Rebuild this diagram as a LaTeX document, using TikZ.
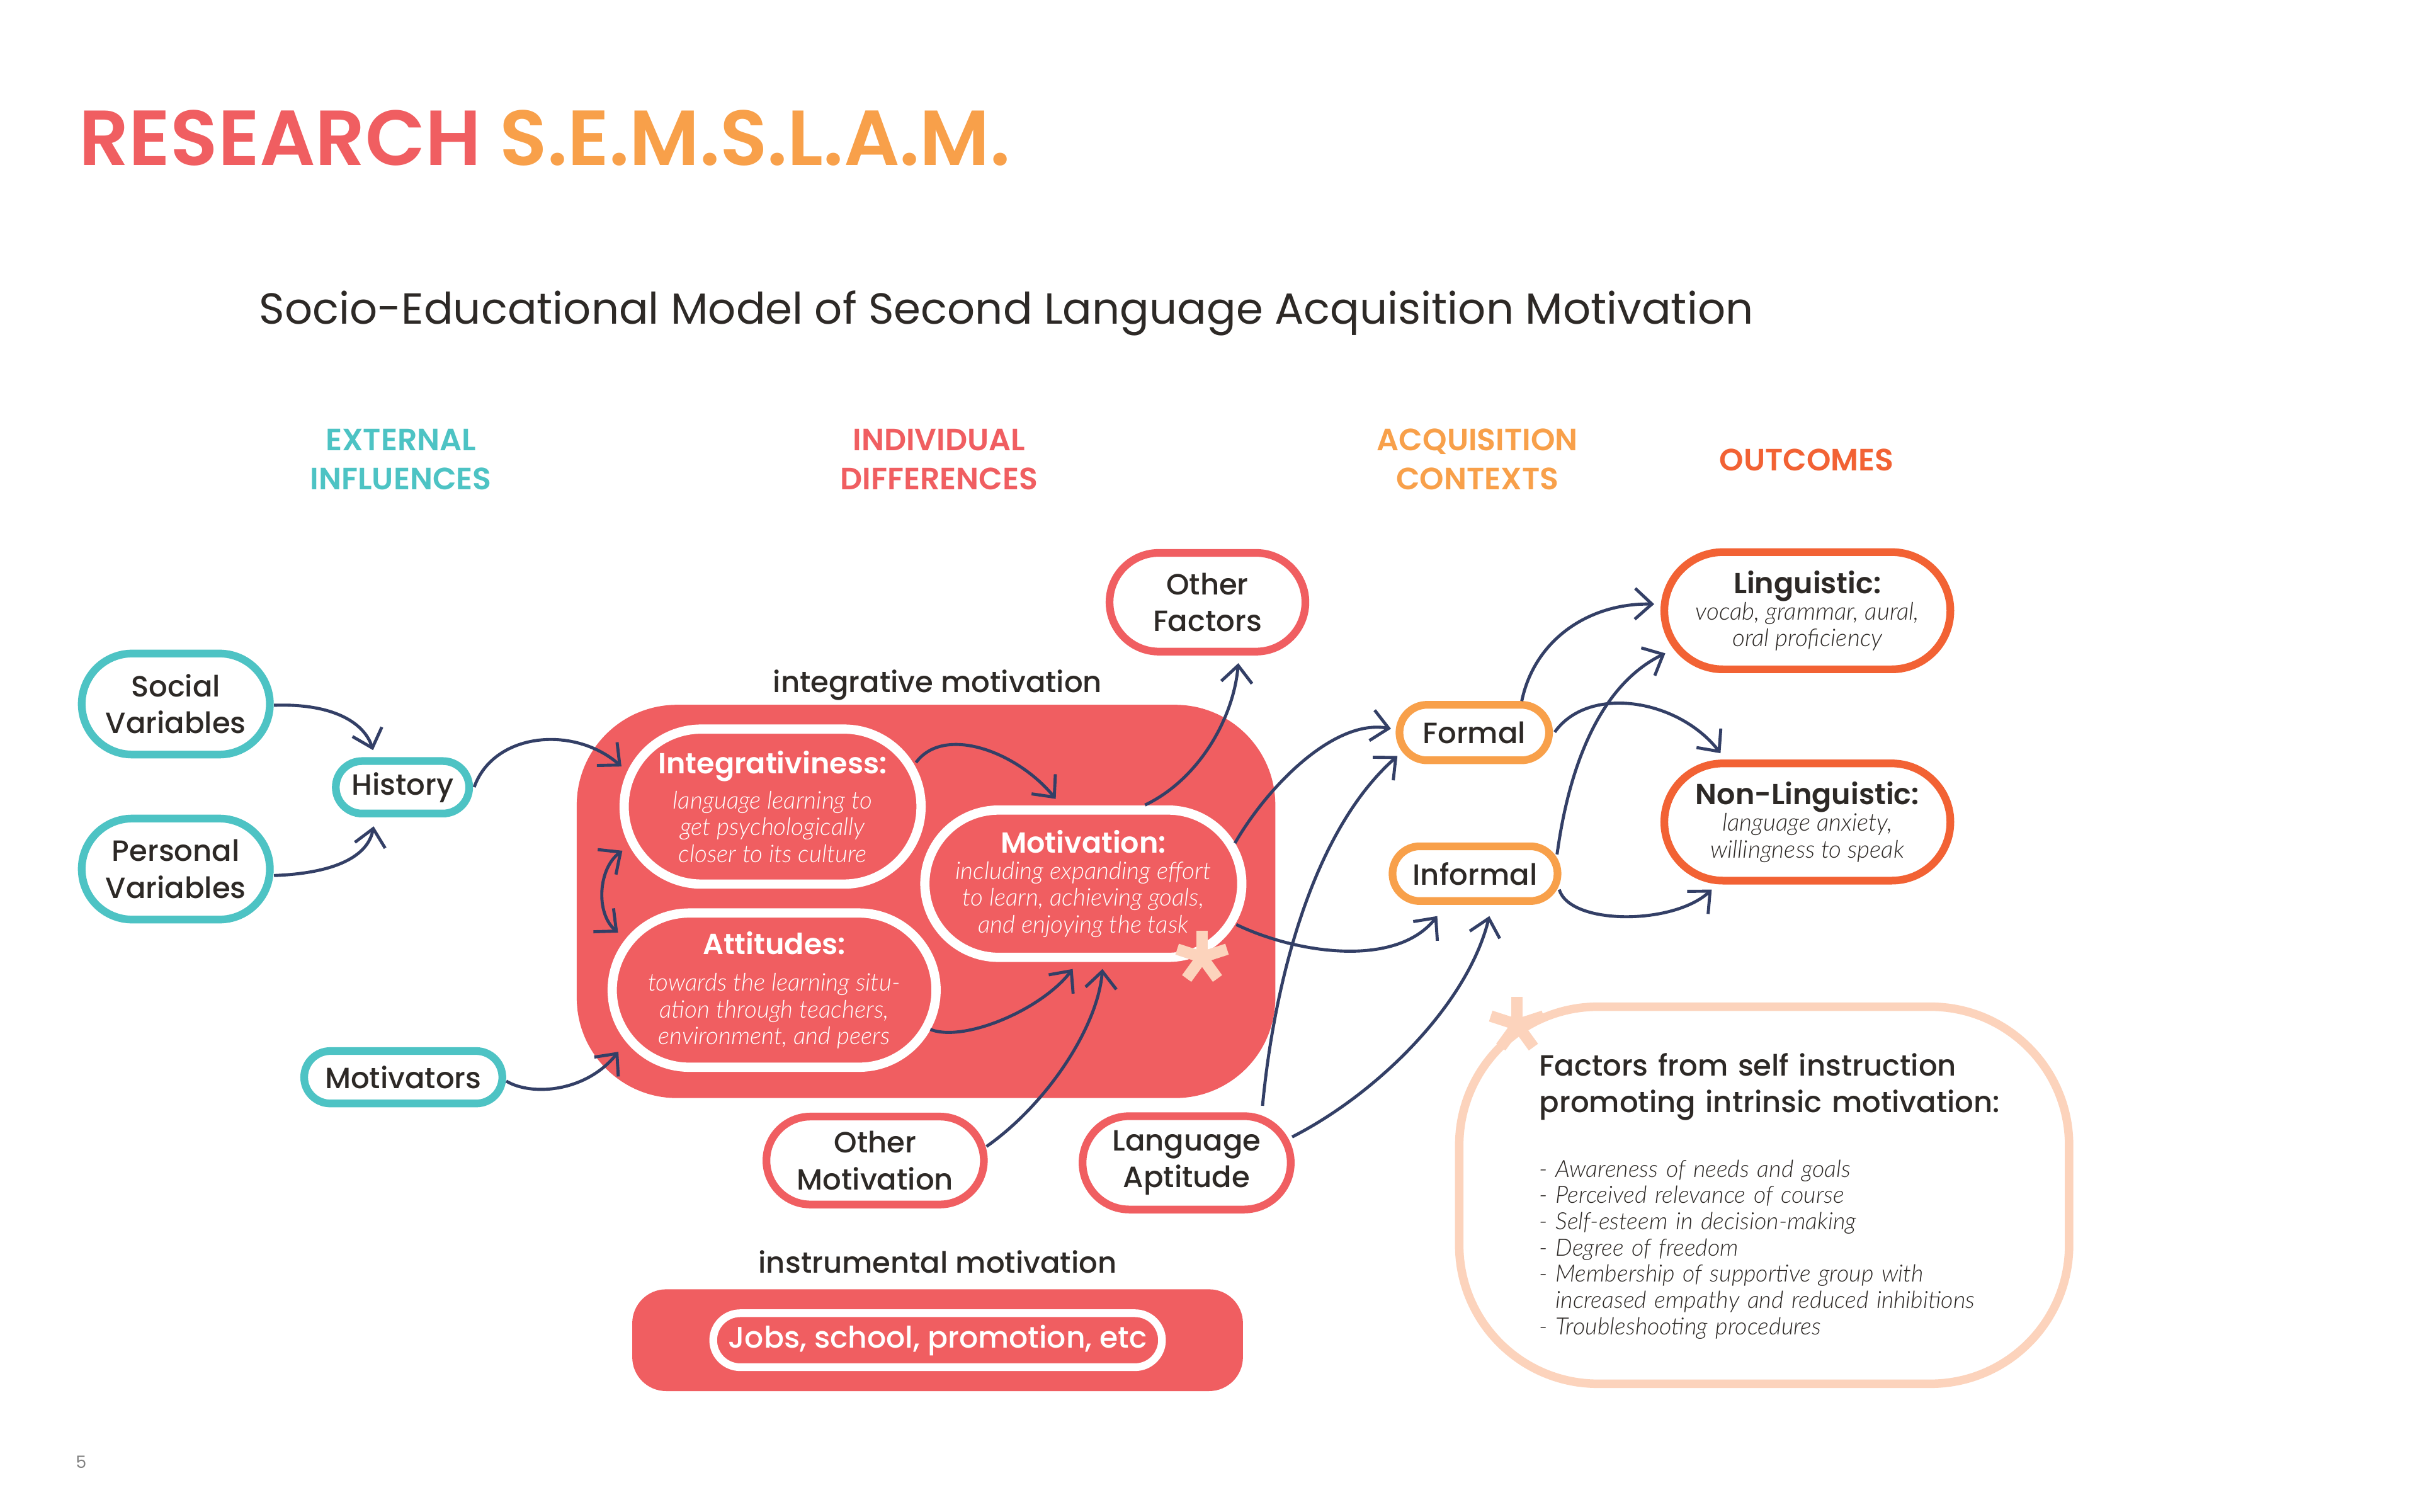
\documentclass[tikz,border=0pt]{standalone}
\usepackage{fontspec}
\usetikzlibrary{arrows.meta}
\setmainfont{Poppins}
\IfFontExistsTF{Poppins Medium}{\newfontfamily\medraw{Poppins Medium}\newcommand\medf{\medraw}}{\newcommand\medf{\normalfont}}
\IfFontExistsTF{Poppins SemiBold}{\newfontfamily\semiraw{Poppins SemiBold}\newcommand\semif{\semiraw}}{\newcommand\semif{\bfseries}}
\IfFontExistsTF{Lato Light Italic}{\newfontfamily\descraw{Lato Light Italic}\newcommand\descf{\descraw}}{\newfontfamily\descraw{Lato}\newcommand\descf{\descraw\itshape}}
\definecolor{redc}{HTML}{F05E61}
\definecolor{orangec}{HTML}{F8A04A}
\definecolor{tealc}{HTML}{4DC3C4}
\definecolor{outc}{HTML}{F26234}
\definecolor{navyc}{HTML}{333F66}
\definecolor{peachc}{HTML}{FCD3BC}
\definecolor{inkc}{HTML}{2D2926}
\newcommand\bt{\semif\fontsize{18.8}{24}\selectfont}
\newcommand\dsz{\descf\fontsize{15.8}{17.3}\selectfont}
\newcommand\lsz{\descf\fontsize{15.4}{17}\selectfont}
\newcommand\labsz{\medf\fontsize{19}{23.8}\selectfont}
\begin{document}
\begin{tikzpicture}[x=1pt,y=-1pt,
  lab/.style={font=\labsz, text=inkc, align=center},
  tealbox/.style={draw=tealc, line width=5pt, fill=white, rectangle, inner sep=0pt, lab},
  redbox/.style={draw=redc, line width=5pt, fill=white, rectangle, inner sep=0pt, lab},
  orgbox/.style={draw=orangec, line width=5pt, fill=white, rectangle, inner sep=0pt, lab},
  outbox/.style={draw=outc, line width=5pt, fill=white, rectangle, inner sep=0pt, align=center, text=inkc, font=\dsz},
  whitebox/.style={draw=white, line width=6pt, fill=redc, rectangle, inner sep=0pt, align=center, text=white, font=\dsz},
  headtxt/.style={anchor=base, text width=220pt, align=center, inner sep=0pt, font=\semif\fontsize{20}{25.2}\selectfont},
  arr/.style={draw=navyc, line width=2pt, -{Straight Barb[length=11pt,width=20pt]}},
  darr/.style={draw=navyc, line width=2pt, {Straight Barb[length=11pt,width=20pt]}-{Straight Barb[length=11pt,width=20pt]}},
  star/.style={draw=peachc, line width=7.4pt}
]
\fill[white] (0,0) rectangle (1568,980);
\useasboundingbox (0,0) rectangle (1568,980);

% titles
\node[anchor=base west, inner sep=0pt, font=\semif\fontsize{50.6}{58}\selectfont] (title) at (51,107)
  {\textcolor{redc}{RESEARCH} \textcolor{orangec}{S.E.M.S.L.A.M.}};
\node[anchor=base west, inner sep=0pt, font=\fontsize{28.2}{34}\selectfont, text=inkc] (subtitle) at (168,210)
  {Socio-Educational Model of Second Language Acquisition Motivation};

% column headings
\node[headtxt, text=tealc] (hext) at (260,292.2) {EXTERNAL\\INFLUENCES};
\node[headtxt, text=redc] (hind) at (609,292.2) {INDIVIDUAL\\DIFFERENCES};
\node[headtxt, text=orangec] (hacq) at (958,292.2) {ACQUISITION\\CONTEXTS};
\node[headtxt, text=outc] (hout) at (1171.5,305.3) {OUTCOMES};

% group boxes
\node[rectangle, fill=redc, rounded corners=65pt, minimum width=453pt, minimum height=255pt, inner sep=0pt] (intbox) at (600.5,584.5) {};
\node[anchor=base, inner sep=0pt, font=\medf\fontsize{19}{22}\selectfont, text=inkc] (intlbl) at (608,448.8) {integrative motivation};
\node[rectangle, fill=redc, rounded corners=22pt, minimum width=396pt, minimum height=66pt, inner sep=0pt] (instbox) at (608,869) {};
\node[anchor=base, inner sep=0pt, font=\medf\fontsize{19}{22}\selectfont, text=inkc] (instlbl) at (608,825.4) {instrumental motivation};
\node[draw=white, line width=5pt, rectangle, rounded corners=17.5pt, minimum width=291pt, minimum height=35pt, inner sep=0pt,
  font=\medf\fontsize{19.3}{23}\selectfont, text=white] (jobs) at (608,869) {Jobs, school, promotion, etc};

% external influences
\node[tealbox, minimum width=122pt, minimum height=65.5pt, rounded corners=32.7pt] (soc) at (114,456.5) {Social\\Variables};
\node[tealbox, minimum width=122pt, minimum height=65.5pt, rounded corners=32.7pt] (pers) at (114,563.5) {Personal\\Variables};
\node[tealbox, minimum width=86.5pt, minimum height=34pt, rounded corners=17pt] (hist) at (261,510.5) {History};
\node[tealbox, minimum width=128.5pt, minimum height=34pt, rounded corners=17pt] (motv) at (261.5,698.5) {Motivators};

% individual differences
\node[whitebox, minimum width=192.5pt, minimum height=100.5pt, rounded corners=50pt] (integ) at (501,523)
  {{\bt Integrativiness:}\\[5.5pt]language learning to\\get psychologically\\closer to its culture};
\node[whitebox, minimum width=210pt, minimum height=100pt, rounded corners=50pt] (att) at (502,642)
  {{\bt Attitudes:}\\[6.5pt]towards the learning situ-\\ation through teachers,\\environment, and peers};
\node[whitebox, minimum width=205.5pt, minimum height=95.5pt, rounded corners=47.7pt] (mot) at (702.5,573)
  {{\bt Motivation:}\\including expanding effort\\to learn, achieving goals,\\and enjoying the task};
\node[redbox, minimum width=127pt, minimum height=64pt, rounded corners=32pt] (ofac) at (783,390.5) {Other\\Factors};
\node[redbox, minimum width=141pt, minimum height=57pt, rounded corners=28.5pt] (omot) at (567.5,752.5) {Other\\Motivation};
\node[redbox, minimum width=135pt, minimum height=60.5pt, rounded corners=30.2pt] (lapt) at (769.5,754) {Language\\Aptitude};

% acquisition contexts
\node[orgbox, minimum width=97pt, minimum height=36pt, rounded corners=18pt] (formal) at (956,475) {Formal};
\node[orgbox, minimum width=107pt, minimum height=35.5pt, rounded corners=17.7pt] (informal) at (956.5,566.5) {Informal};

% outcomes
\node[outbox, minimum width=185.5pt, minimum height=76pt, rounded corners=38pt] (ling) at (1172,396)
  {{\bt\color{inkc}Linguistic:}\\vocab, grammar, aural,\\oral proficiency};
\node[outbox, minimum width=185.5pt, minimum height=76pt, rounded corners=38pt] (nonling) at (1172,533)
  {{\bt\color{inkc}Non-Linguistic:}\\language anxiety,\\willingness to speak};

% self instruction box
\node[draw=peachc, line width=5.5pt, rectangle, rounded corners=90pt, minimum width=395.5pt, minimum height=244.5pt, inner sep=0pt] (selfbox) at (1144,775) {};
\node[anchor=base west, text width=340pt, align=left, inner sep=0pt, font=\medf\fontsize{19}{23.7}\selectfont, text=inkc] (selfhead) at (998,697.6)
  {Factors from self instruction\\promoting intrinsic motivation:};
\node[anchor=base west, text width=340pt, align=left, inner sep=0pt, font=\lsz, text=inkc] (selflist) at (998,763.3)
  {- Awareness of needs and goals\\- Perceived relevance of course\\- Self-esteem in decision-making\\- Degree of freedom\\- Membership of supportive group with\\\phantom{- }increased empathy and reduced inhibitions\\- Troubleshooting procedures};

% page number
\node[anchor=base west, inner sep=0pt, font=\fontsize{11}{13}\selectfont, text=gray] (pnum) at (49,952) {5};

% connectors
\draw[arr] ([shift={(63.7,0.8)}]soc.center) .. controls (215,456) and (236,468) .. ([shift={(-19.1,-24.1)}]hist.center);
\draw[arr] ([shift={(63.7,4.2)}]pers.center) .. controls (222,566) and (239,553) .. ([shift={(-18.7,25.3)}]hist.center);
\draw[arr] ([shift={(46.5,-0.1)}]hist.center) .. controls (320,475) and (372,470) .. ([shift={(-98,-26)}]integ.center);
\draw[arr] ([shift={(66.8,2.5)}]motv.center) .. controls (345,711) and (380,708) .. ([shift={(-101,40)}]att.center);
\draw[darr] ([shift={(-97.4,28.6)}]integ.center) .. controls (388,563) and (386,592) .. ([shift={(-101.2,-37.3)}]att.center);
\draw[arr] ([shift={(93,-28.6)}]integ.center) .. controls (612,470) and (659,487) .. ([shift={(-17.9,-55)}]mot.center);
\draw[arr] ([shift={(101.3,25.5)}]att.center) .. controls (625,676) and (675,655) .. ([shift={(-6.9,55.3)}]mot.center);
\draw[arr] ([shift={(72.2,-9.1)}]omot.center) .. controls (680,715) and (712,665) .. ([shift={(12.4,55.3)}]mot.center);
\draw[arr] ([shift={(40,-51)}]mot.center) .. controls (778,505) and (800,465) .. ([shift={(20,39.5)}]ofac.center);
\draw[arr] ([shift={(98.3,-26.3)}]mot.center) .. controls (822,510) and (865,466) .. ([shift={(-54,-2.5)}]formal.center);
\draw[arr] ([shift={(99.2,26.5)}]mot.center) .. controls (840,618) and (905,628) .. ([shift={(-24.5,27.5)}]informal.center);
\draw[arr] ([shift={(49.2,-37)}]lapt.center) .. controls (826,640) and (850,540) .. ([shift={(-49.8,15.2)}]formal.center);
\draw[arr] ([shift={(68.4,-16.8)}]lapt.center) .. controls (895,708) and (952,650) .. ([shift={(9.3,27.5)}]informal.center);
\draw[arr] ([shift={(30.8,-20.4)}]formal.center) .. controls (995,415) and (1030,391) .. ([shift={(-99.3,-4.3)}]ling.center);
\draw[arr] ([shift={(52.2,-0.3)}]formal.center) .. controls (1030,444) and (1088,453) .. ([shift={(-56.3,-44.6)}]nonling.center);
\draw[arr] ([shift={(53.2,-12.5)}]informal.center) .. controls (1017,500) and (1036,445) .. ([shift={(-92.1,27.6)}]ling.center);
\draw[arr] ([shift={(54.6,10.3)}]informal.center) .. controls (1018,600) and (1085,600) .. ([shift={(-62,43.8)}]nonling.center);

% asterisks
\foreach \a in {-90,-18,54,126,-162} {
  \draw[star] (779.5,620.7) -- ++(\a:17);
  \draw[star] (983.8,664.4) -- ++(\a:18);
}
\end{tikzpicture}
\end{document}
